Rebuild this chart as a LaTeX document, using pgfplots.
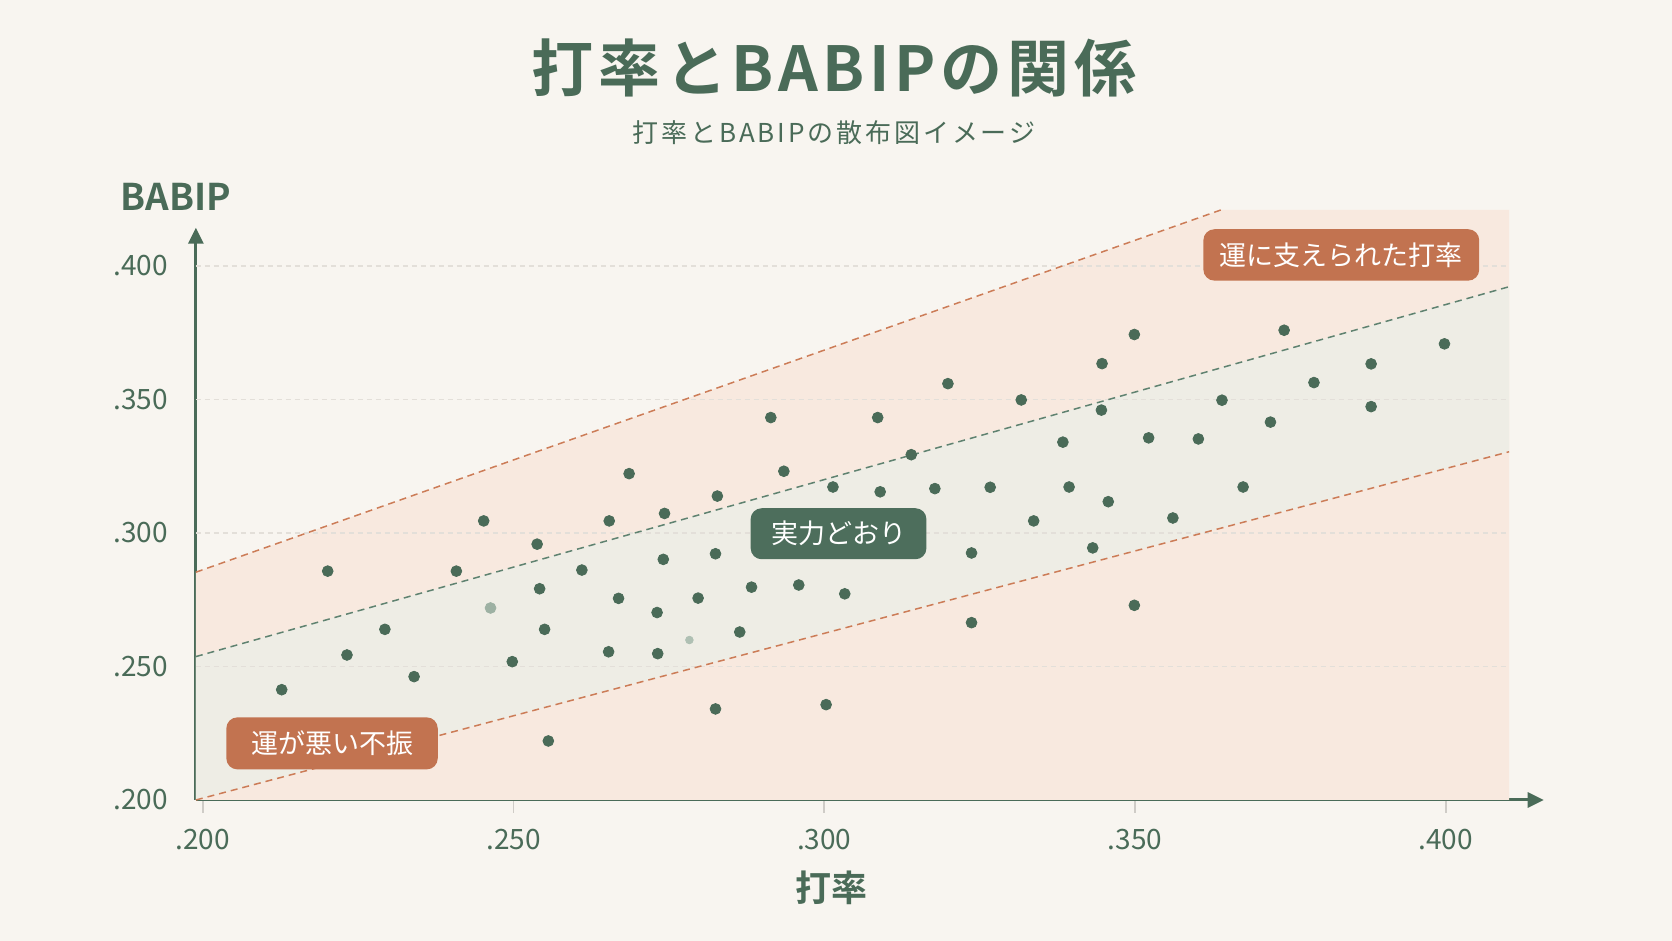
\documentclass[border=0pt]{standalone}
\usepackage{fontspec}
\setmainfont{Noto Sans CJK JP}[BoldFont={Noto Sans CJK JP Bold}]
\usepackage{pgfplots}
\pgfplotsset{compat=1.18}
\usetikzlibrary{arrows.meta}

\definecolor{bg}{HTML}{F8F5F0}
\definecolor{peach}{HTML}{F8E9DF}
\definecolor{band}{HTML}{EEEDE5}
\definecolor{dkgreen}{HTML}{4A6B58}
\definecolor{boxgreen}{HTML}{4D6E5C}
\definecolor{boxorange}{HTML}{C27350}
\definecolor{dashorange}{HTML}{CC7C57}
\definecolor{dashgreen}{HTML}{5F8270}
\definecolor{gridc}{HTML}{E3DFD9}
\definecolor{tickc}{HTML}{CFCCC7}
\definecolor{fadeA}{HTML}{9DB1A3}
\definecolor{fadeB}{HTML}{AFC0B3}

% batting average vs BABIP
\pgfplotstableread{
x y
0.2127 0.2413
0.2201 0.2857
0.2232 0.2543
0.2293 0.2639
0.2340 0.2462
0.2408 0.2857
0.2452 0.3045
0.2498 0.2518
0.2538 0.2958
0.2542 0.2791
0.2550 0.2639
0.2556 0.2221
0.2610 0.2861
0.2653 0.2555
0.2654 0.3045
0.2669 0.2755
0.2686 0.3222
0.2731 0.2702
0.2732 0.2548
0.2741 0.2901
0.2743 0.3073
0.2797 0.2756
0.2825 0.2341
0.2825 0.2922
0.2828 0.3138
0.2864 0.2629
0.2883 0.2797
0.2914 0.3432
0.2935 0.3231
0.2959 0.2805
0.3003 0.2357
0.3014 0.3172
0.3033 0.2772
0.3086 0.3432
0.3090 0.3154
0.3140 0.3293
0.3178 0.3166
0.3199 0.3559
0.3237 0.2925
0.3237 0.2664
0.3267 0.3171
0.3317 0.3498
0.3337 0.3045
0.3384 0.3340
0.3394 0.3172
0.3432 0.2944
0.3446 0.3460
0.3447 0.3634
0.3457 0.3117
0.3499 0.3743
0.3499 0.2729
0.3522 0.3356
0.3561 0.3056
0.3602 0.3352
0.3640 0.3497
0.3674 0.3172
0.3718 0.3415
0.3740 0.3759
0.3788 0.3563
0.3880 0.3633
0.3880 0.3473
0.3998 0.3708
}\players

\begin{document}
\begin{tikzpicture}
\path[use as bounding box, fill=bg] (0,0) rectangle (836pt,470.5pt);

\begin{axis}[
  at={(97.95pt,70.5pt)}, anchor=south west,
  scale only axis, width=673.9pt, height=286.15pt,
  xmin=0.19889, xmax=0.41577, ymin=0.2, ymax=0.4143,
  clip=false,
  axis lines=left,
  axis line style={draw=dkgreen, line width=1.5pt, -{Triangle[length=8pt,width=7.5pt]}},
  xtick={0.2,0.25,0.3,0.35,0.4},
  xticklabels={.200,.250,.300,.350,.400},
  ytick={0.2,0.25,0.3,0.35,0.4},
  yticklabels={.200,.250,.300,.350,.400},
  tick align=outside,
  major tick length=6.5pt,
  xtick style={draw=tickc, line width=0.8pt},
  ytick style={draw=none},
  ticklabel style={font=\fontsize{14}{16}\selectfont, text=dkgreen},
  xticklabel style={anchor=center, yshift=-13.2pt},
  yticklabel style={anchor=east, xshift=-4pt},
]
% bands
\addplot[fill=peach, draw=none] coordinates {(0.19889,0.2) (0.4102,0.2) (0.4102,0.421) (0.3639,0.421) (0.19889,0.2853)} -- cycle;
\addplot[fill=band, draw=none] coordinates {(0.19889,0.2) (0.4102,0.3304) (0.4102,0.3922) (0.19889,0.2537)} -- cycle;
% grid
\addplot[gridc, line width=0.8pt, dash pattern=on 2.5pt off 2pt] coordinates {(0.19889,0.25) (0.4102,0.25)};
\addplot[gridc, line width=0.8pt, dash pattern=on 2.5pt off 2pt] coordinates {(0.19889,0.30) (0.4102,0.30)};
\addplot[gridc, line width=0.8pt, dash pattern=on 2.5pt off 2pt] coordinates {(0.19889,0.35) (0.4102,0.35)};
\addplot[gridc, line width=0.8pt, dash pattern=on 2.5pt off 2pt] coordinates {(0.19889,0.40) (0.4102,0.40)};
% boundary lines
\addplot[dashorange, line width=0.75pt, dash pattern=on 3.5pt off 2.5pt] coordinates {(0.19889,0.2853) (0.3639,0.421)};
\addplot[dashgreen, line width=0.75pt, dash pattern=on 3.5pt off 2.5pt] coordinates {(0.19889,0.2537) (0.4102,0.3922)};
\addplot[dashorange, line width=0.75pt, dash pattern=on 3.5pt off 2.5pt] coordinates {(0.19889,0.2) (0.4102,0.3304)};
% points
\addplot[dkgreen, only marks, mark=*, mark size=2.7pt, mark options={fill=dkgreen, draw=none}] table {\players};
\addplot[fadeA, only marks, mark=*, mark size=2.7pt, mark options={fill=fadeA, draw=none}] coordinates {(0.2463,0.2719)};
\addplot[fadeB, only marks, mark=*, mark size=1.9pt, mark options={fill=fadeB, draw=none}] coordinates {(0.2783,0.2599)};
% labels
\node[fill=boxorange, rounded corners=5.5pt, text=white, minimum width=137.9pt, minimum height=25.7pt, inner sep=0pt, font=\fontsize{13.5}{15}\selectfont] at (axis cs:0.3832,0.4041) {運に支えられた打率};
\node[fill=boxgreen, rounded corners=5.5pt, text=white, minimum width=87.9pt, minimum height=25.5pt, inner sep=0pt, font=\fontsize{13.5}{15}\selectfont] at (axis cs:0.3023,0.2997) {実力どおり};
\node[fill=boxorange, rounded corners=5.5pt, text=white, minimum width=105.7pt, minimum height=26pt, inner sep=0pt, font=\fontsize{13.5}{15}\selectfont] at (axis cs:0.2208,0.2212) {運が悪い不振};
\end{axis}

\node[text=dkgreen, font=\fontsize{31}{36}\selectfont\bfseries\addfontfeatures{LetterSpace=7.5}] at (417pt,436.35pt) {打率とBABIPの関係};
\node[text=dkgreen, font=\fontsize{13}{15}\selectfont\addfontfeatures{LetterSpace=11}] at (417pt,404.2pt) {打率とBABIPの散布図イメージ};
\node[text=dkgreen, font=\fontsize{18.4}{20}\selectfont\bfseries] at (88pt,372.15pt) {BABIP};
\node[text=dkgreen, font=\fontsize{18}{20}\selectfont\bfseries] at (415.5pt,26.5pt) {打率};
\end{tikzpicture}
\end{document}
